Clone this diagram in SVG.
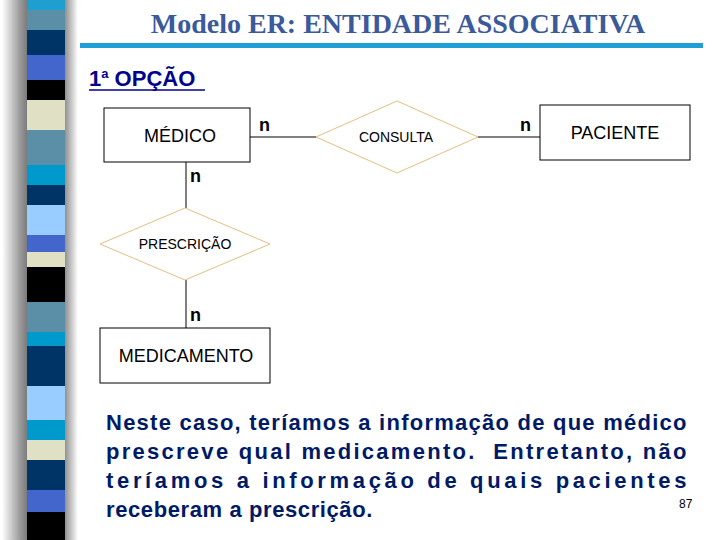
<svg xmlns="http://www.w3.org/2000/svg" width="720" height="540" viewBox="0 0 720 540">
<defs>
<linearGradient id="sh" x1="0" x2="1" y1="0" y2="0"><stop offset="0" stop-color="#fff"/><stop offset="0.7" stop-color="#999"/><stop offset="1" stop-color="#777"/></linearGradient>
<linearGradient id="sh2" x1="0" x2="1"><stop offset="0" stop-color="#888"/><stop offset="1" stop-color="#fff"/></linearGradient>
</defs>
<style>
.ent{fill:#fff;stroke:#000;stroke-width:1}
.rel{fill:#fff;stroke:#e0c080;stroke-width:1}
.ln{stroke:#000;stroke-width:1;fill:none}
.t{font-family:"Liberation Sans",Arial,sans-serif;fill:#000}
.card{font-family:"Liberation Sans",Arial,sans-serif;font-weight:bold;font-size:18px}
.p{font-family:"Liberation Sans",Arial,sans-serif;font-weight:bold;font-size:22px;letter-spacing:0.6px;fill:#001a66}
</style>
<rect width="720" height="540" fill="#fff"/>
<rect x="2" y="0" width="26" height="540" fill="url(#sh)"/>
<rect x="64" y="0" width="14" height="540" fill="url(#sh2)"/>
<g id="stripe">
<rect x="27" y="0" width="38" height="10" fill="#1e9fd0"/>
<rect x="27" y="10" width="38" height="20" fill="#5b8fa8"/>
<rect x="27" y="30" width="38" height="25" fill="#003366"/>
<rect x="27" y="55" width="38" height="25" fill="#4266cc"/>
<rect x="27" y="80" width="38" height="20" fill="#000"/>
<rect x="27" y="100" width="38" height="30" fill="#e0e0c4"/>
<rect x="27" y="130" width="38" height="35" fill="#5b8fa8"/>
<rect x="27" y="165" width="38" height="20" fill="#0099cc"/>
<rect x="27" y="185" width="38" height="20" fill="#003366"/>
<rect x="27" y="205" width="38" height="30" fill="#99ccff"/>
<rect x="27" y="235" width="38" height="17" fill="#4266cc"/>
<rect x="27" y="252" width="38" height="15" fill="#e0e0c4"/>
<rect x="27" y="267" width="38" height="35" fill="#000"/>
<rect x="27" y="302" width="38" height="30" fill="#5b8fa8"/>
<rect x="27" y="332" width="38" height="14" fill="#0099cc"/>
<rect x="27" y="346" width="38" height="40" fill="#003366"/>
<rect x="27" y="386" width="38" height="34" fill="#99ccff"/>
<rect x="27" y="420" width="38" height="20" fill="#0099cc"/>
<rect x="27" y="440" width="38" height="20" fill="#e0e0c4"/>
<rect x="27" y="460" width="38" height="30" fill="#003366"/>
<rect x="27" y="490" width="38" height="22" fill="#4266cc"/>
<rect x="27" y="512" width="38" height="28" fill="#000"/>
</g>
<text x="398" y="33" text-anchor="middle" font-family="Liberation Serif,serif" font-weight="bold" font-size="28" fill="#3a5a9a">Modelo ER: ENTIDADE ASSOCIATIVA</text>
<rect x="80" y="43" width="623" height="5" fill="#1e9fd6"/>
<text x="89" y="86" class="t" font-size="22" font-weight="bold" style="fill:#00008b">1<tspan font-size="13" dy="-8">a</tspan><tspan dy="8"> OPÇÃO</tspan></text>
<line x1="89" y1="90" x2="205" y2="90" stroke="#00008b" stroke-width="1.5"/>
<g id="connectors">
<line class="ln" x1="250" y1="137" x2="316" y2="137"/>
<line class="ln" x1="478" y1="137" x2="540" y2="137"/>
<line class="ln" x1="186" y1="162" x2="186" y2="208"/>
<line class="ln" x1="186" y1="280" x2="186" y2="328"/>
<text class="card" x="259" y="131">n</text>
<text class="card" x="520" y="131">n</text>
<text class="card" x="190" y="182">n</text>
<text class="card" x="190" y="321">n</text>
</g>
<g id="medico"><rect class="ent" x="104" y="108" width="146" height="54"/><text class="t" x="180" y="142" font-size="18" text-anchor="middle">MÉDICO</text></g>
<g id="consulta"><polygon class="rel" points="316,137 397,101 478,137 397,173"/><text class="t" x="396" y="142" font-size="14" text-anchor="middle">CONSULTA</text></g>
<g id="paciente"><rect class="ent" x="540" y="105" width="150" height="55"/><text class="t" x="615" y="139" font-size="18" text-anchor="middle">PACIENTE</text></g>
<g id="prescricao"><polygon class="rel" points="100,244 185,208 270,244 185,280"/><text class="t" x="185" y="249" font-size="14" text-anchor="middle">PRESCRIÇÃO</text></g>
<g id="medicamento"><rect class="ent" x="100" y="328" width="170" height="55"/><text class="t" x="186" y="362" font-size="18" text-anchor="middle">MEDICAMENTO</text></g>
<text class="p" x="106" y="430" textLength="581" lengthAdjust="spacing">Neste caso, teríamos a informação de que médico</text>
<text class="p" x="106" y="459" textLength="581" lengthAdjust="spacing" xml:space="preserve">prescreve qual medicamento.  Entretanto, não</text>
<text class="p" x="106" y="488" textLength="581" lengthAdjust="spacing">teríamos a informação de quais pacientes</text>
<text class="p" x="106" y="517">receberam a prescrição.</text>
<text class="t" x="679" y="508" font-size="12">87</text>
</svg>
